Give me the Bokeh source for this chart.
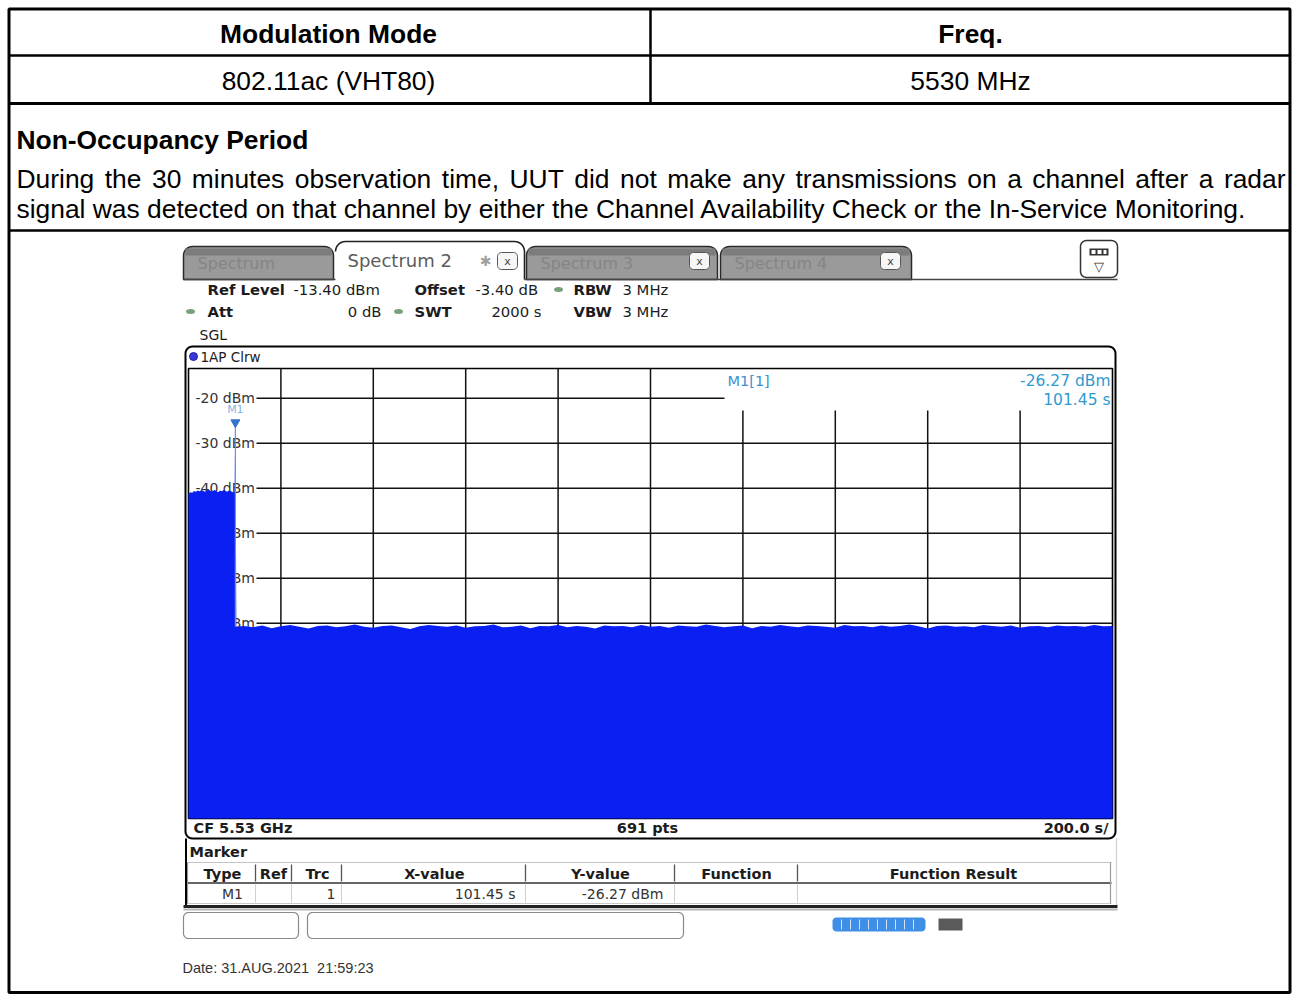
import numpy as np
from bokeh.plotting import figure
from bokeh.models import Range1d
from bokeh.core.properties import value
from bokeh.embed import file_html
from bokeh.resources import INLINE

# ---------------- data ----------------
table_headers = ["Modulation Mode", "Freq."]
table_values = ["802.11ac (VHT80)", "5530 MHz"]
section_title = "Non-Occupancy Period"
paragraph_line1 = "During the 30 minutes observation time, UUT did not make any transmissions on a channel after a radar"
paragraph_line2 = "signal was detected on that channel by either the Channel Availability Check or the In-Service Monitoring."

tab_names = ["Spectrum", "Spectrum 2", "Spectrum 3", "Spectrum 4"]
ref_level_dbm = -13.4
db_span = 100.0
sweep_time_s = 2000.0
y_tick_values = [-20, -30, -40, -50, -60, -70]
y_grid_values = [-20, -30, -40, -50, -60, -70, -80, -90, -100, -110]
x_grid_values = [200, 400, 600, 800, 1000, 1200, 1400, 1600, 1800]

# trace: transmission until ~101 s, then only noise
on_t = [0, 4, 8, 12, 16, 20, 24, 28, 32, 36, 40, 44, 48, 52, 56, 60, 64, 68, 72, 76, 80, 84, 88, 92, 96, 100]
on_db = [-41.3, -40.9, -41.0, -40.6, -40.8, -40.5, -40.7, -40.4, -40.6, -40.8, -40.5, -40.3, -40.6,
         -40.7, -40.4, -40.6, -40.9, -40.5, -40.7, -40.4, -40.6, -40.8, -40.5, -40.7, -40.9, -41.0]
spike_t = [101.0, 101.45, 101.9]
spike_db = [-27.2, -26.27, -27.4]
off_t = [103.5, 120, 140, 160, 180, 200, 220, 240, 260, 280, 300, 320, 340, 360, 380, 400, 420, 440,
         460, 480, 500, 520, 540, 560, 580, 600, 620, 640, 660, 680, 700, 720, 740, 760, 780, 800, 820,
         840, 860, 880, 900, 920, 940, 960, 980, 1000, 1020, 1040, 1060, 1080, 1100, 1120, 1140, 1160,
         1180, 1200, 1220, 1240, 1260, 1280, 1300, 1320, 1340, 1360, 1380, 1400, 1420, 1440, 1460, 1480,
         1500, 1520, 1540, 1560, 1580, 1600, 1620, 1640, 1660, 1680, 1700, 1720, 1740, 1760, 1780, 1800,
         1820, 1840, 1860, 1880, 1900, 1920, 1940, 1960, 1980, 2000]
off_db = [-70.8, -70.6, -70.9, -70.5, -71.1, -70.7, -70.4, -70.8, -71.2, -70.6, -70.5,
          -70.9, -70.7, -70.3, -70.8, -71.0, -70.6, -70.5, -70.9, -71.3, -70.7,
          -70.4, -70.6, -70.8, -70.5, -71.0, -70.7, -70.6, -70.3, -70.9, -70.8,
          -70.5, -71.1, -70.6, -70.7, -70.4, -70.9, -70.6, -70.8, -71.2, -70.5,
          -70.7, -70.6, -70.9, -70.4, -70.8, -70.6, -71.0, -70.5, -70.7, -70.8,
          -70.3, -70.6, -70.9, -70.7, -70.5, -71.1, -70.6, -70.8, -70.4, -70.7,
          -70.9, -70.5, -70.6, -70.8, -71.0, -70.4, -70.7, -70.6, -70.9, -70.5,
          -70.8, -70.6, -70.3, -70.7, -71.2, -70.6, -70.5, -70.8, -70.7, -70.9,
          -70.4, -70.6, -70.8, -70.5, -71.0, -70.7, -70.6, -70.9, -70.5, -70.7,
          -70.6, -70.8, -70.4, -70.7, -70.6]
marker_t = 101.45
marker_db = -26.27

hdr_row1 = [("Ref Level", True), ("-13.40 dBm", False), ("Offset", True), ("-3.40 dB", False), ("RBW", True), ("3 MHz", False)]
hdr_row2 = [("Att", True), ("0 dB", False), ("SWT", True), ("2000 s", False), ("VBW", True), ("3 MHz", False)]
trace_label = "1AP Clrw"
bottom_labels = ["CF 5.53 GHz", "691 pts", "200.0 s/"]
marker_cols = ["Type", "Ref", "Trc", "X-value", "Y-value", "Function", "Function Result"]
marker_row = ["M1", "", "1", "101.45 s", "-26.27 dBm", "", ""]
date_text = "Date: 31.AUG.2021\u00a0 21:59:23"

# ---------------- layout constants ----------------
W, H = 1292, 994
X0, X1, Y0, Y1 = 0, 1292, 0, 994
GX0, GX1, GY0, GY1 = 188.0, 1112.0, 368.0, 818.0
INST = "DejaVu Sans"
ARIAL = "Liberation Sans"
INK = "#1c1c1c"
BLUE = "#0a1ff2"

p = figure(width=W, height=H, x_range=Range1d(X0, X1), y_range=Range1d(Y1, Y0),
           output_backend="svg", toolbar_location=None, title=None,
           x_axis_type=None, y_axis_type=None, min_border=0,
           background_fill_color="white", border_fill_color="white", outline_line_color=None)

s_per_px = sweep_time_s / (GX1 - GX0)
db_per_px = db_span / (GY1 - GY0)
p.extra_x_ranges = {"t": Range1d((X0 - GX0) * s_per_px, (X1 - GX0) * s_per_px)}
p.extra_y_ranges = {"db": Range1d(ref_level_dbm - (Y1 - GY0) * db_per_px,
                                  ref_level_dbm - (Y0 - GY0) * db_per_px)}
TD = dict(x_range_name="t", y_range_name="db")
XD = dict(y_range_name="db")


def T(x, y, s, size, bold=False, align="left", color=INK, font=INST, baseline="middle", **kw):
    p.text(x=[x], y=[y], text=[s], text_font=value(font), text_font_size=f"{size}px",
           text_font_style="bold" if bold else "normal", text_color=color,
           text_align=align, text_baseline=baseline, **kw)


def rr(x0, y0, x1, y1, r, top_only=False):
    pts = []

    def arc(cx, cy, a0, a1):
        for a in np.linspace(a0, a1, 8):
            pts.append((cx + r * np.cos(a), cy + r * np.sin(a)))
    arc(x0 + r, y0 + r, np.pi, 1.5 * np.pi)
    arc(x1 - r, y0 + r, 1.5 * np.pi, 2 * np.pi)
    if top_only:
        pts.append((x1, y1))
        pts.append((x0, y1))
    else:
        arc(x1 - r, y1 - r, 0, 0.5 * np.pi)
        arc(x0 + r, y1 - r, 0.5 * np.pi, np.pi)
    return [q[0] for q in pts], [q[1] for q in pts]


def rbox(x0, y0, x1, y1, r, fill="white", line="black", lw=1.0, top_only=False, alpha=1.0):
    xs, ys = rr(x0, y0, x1, y1, r, top_only)
    p.patch(xs, ys, fill_color=fill, line_color=line, line_width=lw, fill_alpha=alpha)


# ---------------- outer report table ----------------
p.quad(left=[8.5], right=[1289.5], top=[8.5], bottom=[992], fill_color=None, line_color="black", line_width=3)
p.segment(x0=[8, 8], y0=[55, 230], x1=[1290, 1290], y1=[55, 230], line_color="black", line_width=2.5)
p.segment(x0=[8], y0=[103], x1=[1290], y1=[103], line_color="black", line_width=3)
p.segment(x0=[650], y0=[8], x1=[650], y1=[103], line_color="black", line_width=2.5)

FS = 26.4
T(328, 33, table_headers[0], FS, bold=True, align="center", color="black", font=ARIAL)
T(970, 33, table_headers[1], FS, bold=True, align="center", color="black", font=ARIAL)
T(328, 80, table_values[0], FS, align="center", color="black", font=ARIAL)
T(970, 80, table_values[1], FS, align="center", color="black", font=ARIAL)
T(16, 139, section_title, FS, bold=True, color="black", font=ARIAL)

# justified first paragraph line (Arial metrics)
AW = dict(zip("abcdefghijklmnopqrstuvwxyz",
              [556, 556, 500, 556, 556, 278, 556, 556, 222, 222, 500, 222, 833, 556, 556, 556, 556, 333, 500, 278, 556, 500, 722, 500, 500, 500]))
AW.update(dict(zip("ABCDEFGHIJKLMNOPQRSTUVWXYZ",
                   [667, 667, 722, 722, 667, 611, 778, 722, 278, 500, 667, 556, 833, 722, 778, 667, 778, 722, 667, 611, 722, 667, 944, 667, 667, 611])))
AW.update({c: 556 for c in "0123456789"})
AW.update({" ": 278, ",": 278, ".": 278, "-": 333})
words = paragraph_line1.split(" ")
wpx = [sum(AW.get(c, 556) for c in w) * FS / 1000.0 for w in words]
gap = (1285 - 16 - sum(wpx)) / (len(words) - 1)
xx = 16.0
for w, ww in zip(words, wpx):
    T(xx, 178, w, FS, color="black", font=ARIAL)
    xx += ww + gap
T(16, 208, paragraph_line2, FS, color="black", font=ARIAL)

# ---------------- instrument screen: tabs ----------------
tabs = [(183, 333), (335, 524), (526, 717), (720, 911)]
for i, (a, b) in enumerate(tabs):
    if i == 1:
        xs, ys = rr(a, 241, b, 279, 10, top_only=True)
        p.patch(xs, ys, fill_color="white", line_color=None)
        p.line(xs[:-1], ys[:-1], line_color="#222", line_width=1.6)
    else:
        rbox(a, 246, b, 279, 9, fill="#9a9a9a", line="#2a2a2a", lw=1.5, top_only=True)
        p.quad(left=[a + 2], right=[b - 2], top=[248], bottom=[255], fill_color="#7c7c7c", line_color=None)
T(347, 260, tab_names[1], 18, color="#5c5c5c")
T(197, 263, tab_names[0], 16, color="#858585")
T(540, 263, tab_names[2], 16, color="#858585")
T(734, 263, tab_names[3], 16, color="#858585")
T(485, 260, "\u2731", 14, align="center", color="#a0a0a0")
for cx in (507, 699, 890):
    rbox(cx - 10, 252, cx + 10, 269, 4, fill="#f6f6f6", line="#555", lw=1)
    T(cx, 261, "x", 11, align="center", color="#444")
p.segment(x0=[183, 524], y0=[279, 279], x1=[335, 1117], y1=[279, 279], line_color="#444", line_width=1.3)
rbox(1080, 240, 1117, 277, 6, fill="white", line="#333", lw=1.5)
p.quad(left=[1089], right=[1108], top=[248], bottom=[255], fill_color="#333", line_color=None)
p.quad(left=[1091, 1097, 1103], right=[1095, 1101, 1106], top=[249.5] * 3, bottom=[253.5] * 3,
       fill_color="white", line_color=None)
T(1098.5, 266, "\u25bd", 13, align="center", color="#333")

# ---------------- header settings ----------------
r1x = [207, 293, 414, 475, 573, 622]
for (s, b), x in zip(hdr_row1, r1x):
    T(x, 289, s, 14.8, bold=b)
r2 = [(207, "left"), (381, "right"), (414, "left"), (541, "right"), (573, "left"), (622, "left")]
for (s, b), (x, al) in zip(hdr_row2, r2):
    T(x, 311, s, 14.8, bold=b, align=al)
p.ellipse(x=[558, 190, 398], y=[289, 311, 311], width=9, height=5, fill_color="#7aa07a", line_color=None)
T(199, 334, "SGL", 14)

# ---------------- diagram ----------------
rbox(185, 346, 1115, 838, 7, fill="white", line="black", lw=2)
p.scatter(x=[193], y=[356], size=8, marker="circle", fill_color="#3838d8", line_color="#2020a0")
T(200, 356, trace_label, 13.5)
p.quad(left=[GX0], right=[GX1], top=[GY0], bottom=[GY1], fill_color=None, line_color="black", line_width=1.6)

# grid
hx0 = [256] * len(y_grid_values)
hx1 = [724 if v == -20 else GX1 for v in y_grid_values]
p.segment(x0=hx0, y0=y_grid_values, x1=hx1, y1=y_grid_values, line_color="#111111", line_width=1.5, **XD)
vy0 = [ref_level_dbm - (410 - GY0) * db_per_px if t >= 1200 else ref_level_dbm for t in x_grid_values]
p.segment(x0=x_grid_values, y0=vy0, x1=x_grid_values, y1=[ref_level_dbm - db_span] * len(x_grid_values),
          line_color="#111111", line_width=1.5, **TD)

# level labels
p.text(x=[195] * len(y_tick_values), y=y_tick_values, text=[f"{v} dBm" for v in y_tick_values],
       text_font=value(INST), text_font_size="14px", text_color="#333", text_baseline="middle", **XD)

# trace
tr_t = on_t + spike_t + off_t
tr_db = on_db + spike_db + off_db
p.varea(x=tr_t, y1=ref_level_dbm - db_span, y2=tr_db, fill_color=BLUE, **TD)

# marker
p.segment(x0=[marker_t], y0=[marker_db + 5 * db_per_px], x1=[marker_t], y1=[off_db[0]],
          line_color="#6d8cff", line_width=1.2, **TD)
p.scatter(x=[marker_t], y=[marker_db + 4 * db_per_px], marker="inverted_triangle", size=9,
          fill_color="#3572c9", line_color="#3572c9", **TD)
p.text(x=[marker_t], y=[marker_db], text=["M1"], text_font=value(INST), text_font_size="11px",
       text_color="#86b4e2", text_align="center", text_baseline="middle", y_offset=-17, **TD)

T(727, 380, "M1[1]", 14.5, color="#3d8fd2")
T(1110, 380, f"{marker_db:.2f} dBm", 15.5, align="right", color="#2f9ad0")
T(1110, 399, f"{marker_t:.2f} s", 15.5, align="right", color="#2f9ad0")

# bottom strip
T(193, 827, bottom_labels[0], 14.5, bold=True)
T(647, 827, bottom_labels[1], 14.5, bold=True, align="center")
T(1108, 827, bottom_labels[2], 14.5, bold=True, align="right")

# ---------------- marker table ----------------
T(189, 851, "Marker", 14.5, bold=True)
seps = [255, 291, 341, 525, 674, 797]
p.segment(x0=[187], y0=[862], x1=[1111], y1=[862], line_color="#c4c4c4", line_width=1.2)
p.segment(x0=[187], y0=[882.5], x1=[1111], y1=[882.5], line_color="#333", line_width=1.6)
p.segment(x0=[187], y0=[903], x1=[1111], y1=[903], line_color="#c8c8c8", line_width=1.2)
p.segment(x0=seps, y0=[864] * 6, x1=seps, y1=[881] * 6, line_color="#555", line_width=1.3)
p.segment(x0=seps, y0=[884] * 6, x1=seps, y1=[902] * 6, line_color="#d0d0d0", line_width=1)
p.segment(x0=[187, 1110], y0=[862, 862], x1=[187, 1110], y1=[903, 903], line_color="#9a9a9a", line_width=1.2)
col_cx = [222, 273, 317, 434, 600, 736, 953]
for s, x in zip(marker_cols, col_cx):
    T(x, 873, s, 14.5, bold=True, align="center")
row_pos = [(232, "center"), (273, "center"), (335, "right"), (515, "right"), (663, "right"), (736, "center"), (953, "center")]
for s, (x, al) in zip(marker_row, row_pos):
    if s:
        T(x, 893, s, 14, align=al, color="#333")
p.segment(x0=[185.5], y0=[838], x1=[185.5], y1=[905], line_color="black", line_width=2)
p.segment(x0=[1116], y0=[838], x1=[1116], y1=[905], line_color="#cfcfcf", line_width=1.2)
p.segment(x0=[183], y0=[906], x1=[1117], y1=[906], line_color="#222", line_width=3)
p.segment(x0=[183], y0=[909], x1=[1117], y1=[909], line_color="#b4b4b4", line_width=2)

# ---------------- status bar ----------------
rbox(183, 912, 298, 938, 5, fill="white", line="#8a8a8a", lw=1.2)
rbox(307, 912, 683, 938, 5, fill="white", line="#8a8a8a", lw=1.2)
rbox(832, 917, 925, 931, 4, fill="#3f8fe6", line=None)
tick_x = [841, 850, 859, 868, 877, 886, 895, 904, 913]
p.segment(x0=tick_x, y0=[919] * 9, x1=tick_x, y1=[929] * 9, line_color="#cfe4fb", line_width=1)
p.quad(left=[938], right=[962], top=[918], bottom=[930], fill_color="#5a5a5a", line_color=None)

T(182, 967, date_text, 14.5, color="#333", font=ARIAL)

open("out.html", "w").write(file_html(p, INLINE))
